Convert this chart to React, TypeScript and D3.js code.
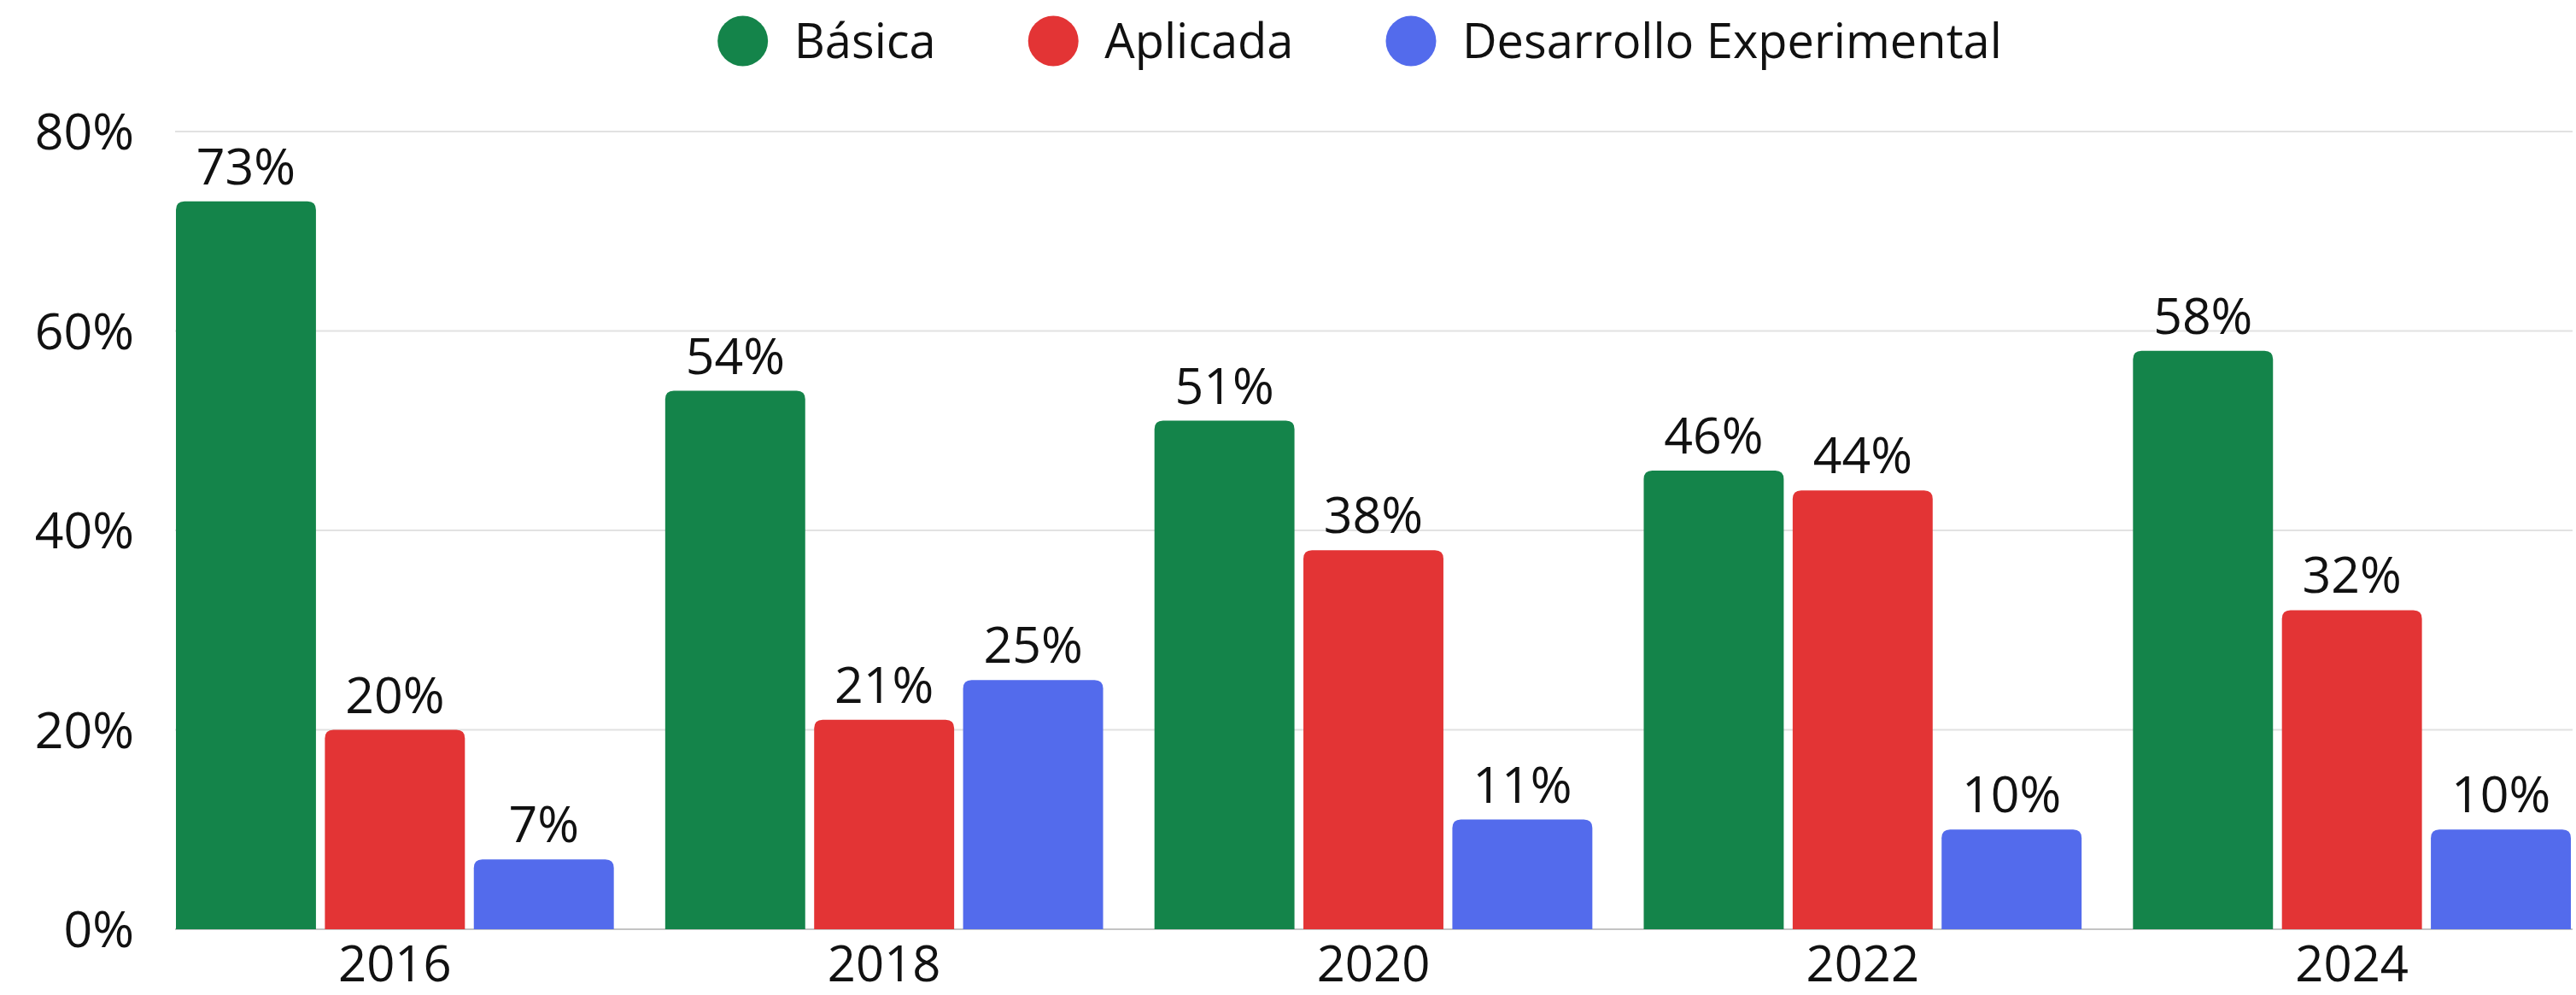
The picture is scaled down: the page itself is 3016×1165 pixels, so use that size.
import * as d3 from "d3";
import React, {useEffect, useRef} from "react";

const years = ["2016", "2018", "2020", "2022", "2024"];
const seriesNames = ["Básica", "Aplicada", "Desarrollo Experimental"];
const basica = [73, 54, 51, 46, 58];
const aplicada = [20, 21, 38, 44, 32];
const desarrollo = [7, 25, 11, 10, 10];
const colors = ["#14844a", "#e33435", "#536bec"];
const yTicks = [0, 20, 40, 60, 80];

const W = 3016;
const H = 1165;
const FONT = "'Open Sans', sans-serif";

const App = () => {
    const svgRef = useRef(null);

    useEffect(() => {
        const values = [basica, aplicada, desarrollo];
        const svg = d3.select(svgRef.current);
        svg.selectAll("*").remove();

        const x0 = d3.scaleBand()
            .domain(years)
            .range([206, 3010])
            .paddingInner(0.105)
            .paddingOuter(0);

        const x1 = d3.scaleBand()
            .domain(seriesNames)
            .range([0, x0.bandwidth()])
            .paddingInner(0.06);

        const y = d3.scaleLinear()
            .domain([0, 80])
            .range([1088, 154]);

        // grid
        svg.append("g")
            .selectAll("line")
            .data(yTicks)
            .enter()
            .append("line")
            .attr("x1", 205)
            .attr("x2", 3012)
            .attr("y1", d => y(d))
            .attr("y2", d => y(d))
            .attr("stroke", d => d === 0 ? "#c4c4c4" : "#e2e2e2")
            .attr("stroke-width", 2);

        // y labels
        svg.append("g")
            .selectAll("text")
            .data(yTicks)
            .enter()
            .append("text")
            .attr("x", 157)
            .attr("y", d => y(d))
            .attr("dy", "0.36em")
            .attr("text-anchor", "end")
            .attr("font-family", FONT)
            .attr("font-size", 59)
            .attr("fill", "#111")
            .text(d => d + "%");

        // rounded-top bar
        const barPath = (bx, by, bw, bh, r) => {
            const rr = Math.min(r, bh, bw / 2);
            return `M${bx},${by + bh} L${bx},${by + rr} Q${bx},${by} ${bx + rr},${by}` +
                ` L${bx + bw - rr},${by} Q${bx + bw},${by} ${bx + bw},${by + rr} L${bx + bw},${by + bh} Z`;
        };

        const groups = svg.append("g")
            .selectAll("g")
            .data(years)
            .enter()
            .append("g")
            .attr("transform", d => `translate(${x0(d)},0)`);

        seriesNames.forEach((s, si) => {
            groups.append("path")
                .attr("fill", colors[si])
                .attr("d", (d, i) => barPath(x1(s), y(values[si][i]), x1.bandwidth(), y(0) - y(values[si][i]), 10));

            groups.append("text")
                .attr("x", x1(s) + x1.bandwidth() / 2)
                .attr("y", (d, i) => y(values[si][i]) - 20)
                .attr("text-anchor", "middle")
                .attr("font-family", FONT)
                .attr("font-size", 59)
                .attr("fill", "#111")
                .text((d, i) => values[si][i] + "%");
        });

        // x labels
        svg.append("g")
            .selectAll("text")
            .data(years)
            .enter()
            .append("text")
            .attr("x", d => x0(d) + x0.bandwidth() / 2)
            .attr("y", 1149)
            .attr("text-anchor", "middle")
            .attr("font-family", FONT)
            .attr("font-size", 58)
            .attr("fill", "#111")
            .text(d => d);

        // legend
        const legend = svg.append("g");
        const items = legend.selectAll("g")
            .data(seriesNames)
            .enter()
            .append("g");
        items.append("circle")
            .attr("r", 29.5)
            .attr("cx", 0)
            .attr("cy", 48)
            .attr("fill", (d, i) => colors[i]);
        items.append("text")
            .attr("x", 60)
            .attr("y", 48)
            .attr("dy", "0.36em")
            .attr("font-family", FONT)
            .attr("font-size", 56)
            .attr("fill", "#111")
            .text(d => d);

        let pos = 0;
        const starts = [];
        items.each(function () {
            const t = d3.select(this).select("text").node();
            const w = t.getComputedTextLength();
            starts.push(pos);
            pos += 60 + w + 108 + 29.5;
        });
        const total = pos - 108;
        const left = 1592 - total / 2 + 29.5;
        items.attr("transform", (d, i) => `translate(${left + starts[i]},0)`);
    }, []);

    return (
        <svg ref={svgRef} width={W} height={H}
             style={{position: "absolute", left: 0, top: 0, display: "block", background: "#fff"}}/>
    );
};

export default App;
